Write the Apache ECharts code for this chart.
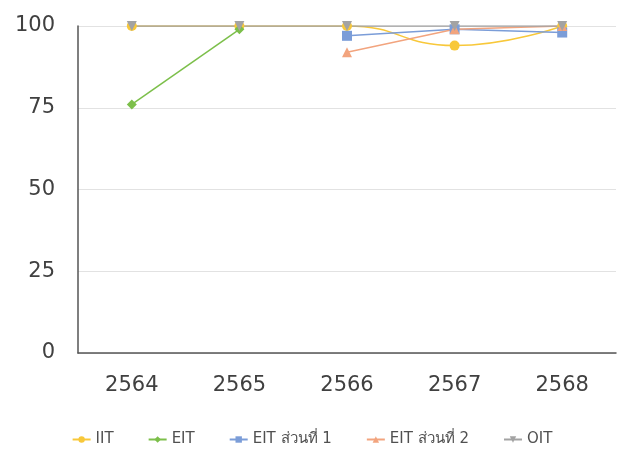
<!DOCTYPE html>
<html><head><meta charset="utf-8">
<script src="https://cdn.jsdelivr.net/npm/echarts@6/dist/echarts.min.js"></script>
<style>html,body{margin:0;padding:0;background:#fff}#c{width:624px;height:452px}</style>
</head><body><div id="c"></div>
<script>
const categories = ['2564','2565','2566','2567','2568'];
const yTicks = [0,25,50,75,100];
const iit = [100, 100, 100, 94, 100];
const eit = [76, 99, null, null, null];
const eitPart1 = [null, null, 97, 99, 98];
const eitPart2 = [null, null, 92, 99, 100];
const oit = [100, 100, 100, 100, 100];
const names = ['IIT','EIT','EIT ส่วนที่ 1','EIT ส่วนที่ 2','OIT'];

const chart = echarts.init(document.getElementById('c'));
const font = "'DejaVu Sans', 'Noto Sans', sans-serif";
function s(name, data, color, symbol, opts) {
  return Object.assign({
    name, type: 'line', data, symbol, symbolSize: 10,
    itemStyle: {color}, lineStyle: {color, width: 1.5},
    connectNulls: false
  }, opts || {});
}
chart.setOption({
  animation: false,
  textStyle: {fontFamily: font},
  grid: {left: 78, right: 8, top: 26, bottom: 99},
  xAxis: {
    type: 'category', data: categories, boundaryGap: true,
    axisLine: {lineStyle: {color: '#555', width: 1.5}},
    axisTick: {show: false},
    axisLabel: {color: '#404040', fontSize: 21, margin: 22, fontFamily: font}
  },
  yAxis: {
    type: 'value', min: 0, max: 100, interval: 25,
    axisLine: {show: true, lineStyle: {color: '#555', width: 1.5}},
    axisTick: {show: false},
    splitLine: {lineStyle: {color: '#e2e2e2'}},
    axisLabel: {color: '#404040', fontSize: 21, margin: 23, fontFamily: font,
      formatter: v => yTicks.includes(v) ? String(v) : ''}
  },
  legend: {
    bottom: 0, left: 'center', itemGap: 34, itemWidth: 18, itemHeight: 8,
    textStyle: {color: '#505050', fontSize: 15, fontFamily: font},
    data: names
  },
  series: [
    s(names[0], iit, '#F8C83A', 'circle', {smooth: true}),
    s(names[1], eit, '#7CBF4A', 'diamond'),
    s(names[2], eitPart1, '#7B9DD8', 'rect'),
    s(names[3], eitPart2, '#F2A47E', 'triangle'),
    s(names[4], oit, '#A3A3A3', 'triangle', {symbolRotate: 180})
  ]
});
</script></body></html>
